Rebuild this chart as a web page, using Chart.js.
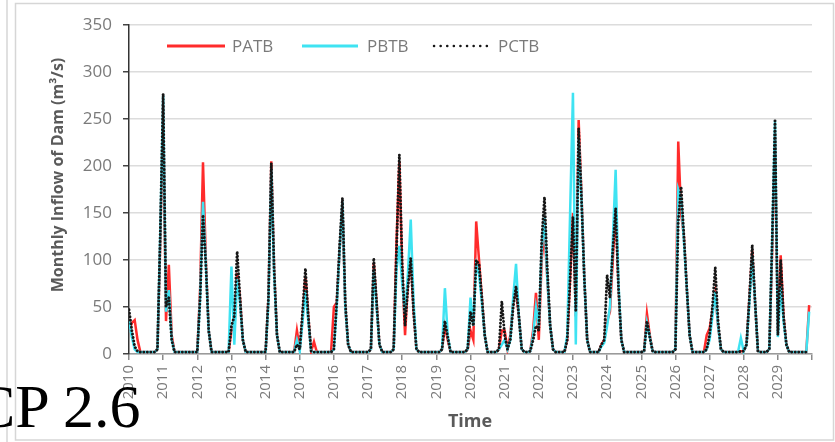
<!DOCTYPE html>
<html>
<head>
<meta charset="utf-8">
<script src="https://cdn.jsdelivr.net/npm/chart.js@4.4.1/dist/chart.umd.min.js"></script>
<style>
  html, body { margin: 0; padding: 0; background: #fff; }
  #wrap { position: relative; width: 835px; height: 442px; overflow: hidden; }
  canvas { position: absolute; left: 0; top: 0; }
  #rcp { position: absolute; left: -26px; top: 375px; font-family: "Liberation Serif", "Times New Roman", serif;
         font-size: 62px; line-height: 62px; color: #000; white-space: nowrap; z-index: 5; }
</style>
</head>
<body>
<div id="wrap">
  <canvas id="c" width="835" height="442"></canvas>
  <div id="rcp">CP 2.6</div>
</div>
<script>
// ---- data (monthly, Jan 2010 .. Dec 2029) ----
const yearLabels = ['2010','2011','2012','2013','2014','2015','2016','2017','2018','2019',
                    '2020','2021','2022','2023','2024','2025','2026','2027','2028','2029'];
const seriesNames = ['PATB', 'PBTB', 'PCTB'];

const PATB = [
  25,33,36,15,2,2,2,2,2,2,5,120,
  265,35,95,20,2,2,2,2,2,2,2,2,
  2,70,204,100,25,2,2,2,2,2,2,2,
  25,30,86,60,15,2,2,2,2,2,2,2,
  2,60,205,90,20,2,2,2,2,2,2,25,
  5,40,82,40,3,13,2,2,2,2,2,2,
  50,55,110,160,50,10,2,2,2,2,2,2,
  2,5,97,55,10,2,2,2,2,5,120,205,
  90,20,75,102,45,5,2,2,2,2,2,2,
  2,2,5,30,15,2,2,2,2,2,2,5,
  25,15,141,100,60,20,2,2,2,2,5,25,
  25,5,20,55,68,40,5,2,2,3,25,65,
  15,100,130,80,30,5,2,2,2,2,15,80,
  150,40,249,170,80,15,2,2,2,2,10,15,
  35,45,100,155,70,15,2,2,2,2,2,2,
  2,3,43,20,3,2,2,2,2,2,2,2,
  5,226,150,125,70,20,2,2,2,2,2,20,
  27,45,65,30,5,2,2,2,2,2,2,3,
  3,10,60,110,55,3,2,2,2,5,110,235,
  25,105,40,10,2,2,2,2,2,2,2,52
];
const PBTB = [
  35,18,5,2,2,2,2,2,2,2,5,130,
  275,45,68,15,2,2,2,2,2,2,2,2,
  2,60,162,95,25,2,2,2,2,2,2,2,
  93,10,80,55,15,2,2,2,2,2,2,2,
  2,55,197,85,20,2,2,2,2,2,2,15,
  3,35,68,35,3,2,2,2,2,2,2,2,
  5,50,110,162,50,10,2,2,2,2,2,2,
  2,5,90,50,10,2,2,2,2,5,90,115,
  75,43,85,143,55,5,2,2,2,2,2,2,
  2,2,5,70,20,2,2,2,2,2,2,5,
  60,30,95,85,55,20,2,2,2,2,5,10,
  15,5,15,60,96,40,5,2,2,3,20,50,
  30,110,145,80,30,5,2,2,2,2,20,150,
  278,10,230,165,80,15,2,2,2,2,8,12,
  30,50,120,196,75,15,2,2,2,2,2,2,
  2,3,33,18,3,2,2,2,2,2,2,2,
  5,175,165,120,70,20,2,2,2,2,2,5,
  15,40,66,30,5,2,2,2,2,2,2,17,
  3,10,55,105,55,3,2,2,2,5,120,248,
  18,72,35,10,2,2,2,2,2,2,2,45
];
const PCTB = [
  47,25,8,3,2,2,2,2,2,2,5,130,
  277,50,60,15,2,2,2,2,2,2,2,2,
  2,60,148,95,25,2,2,2,2,2,2,2,
  30,40,109,60,15,2,2,2,2,2,2,2,
  2,60,203,90,20,2,2,2,2,2,2,10,
  5,45,91,40,3,2,2,2,2,2,2,2,
  5,55,115,166,55,10,2,2,2,2,2,2,
  2,5,102,55,10,2,2,2,2,5,110,212,
  95,30,70,102,45,5,2,2,2,2,2,2,
  2,2,5,35,18,2,2,2,2,2,2,5,
  45,30,100,95,60,20,2,2,2,2,5,56,
  20,5,15,50,72,40,5,2,2,3,15,30,
  25,120,167,90,30,5,2,2,2,2,15,80,
  146,45,240,165,80,15,2,2,2,2,10,15,
  84,60,110,155,70,15,2,2,2,2,2,2,
  2,3,35,18,3,2,2,2,2,2,2,2,
  5,140,178,125,70,20,2,2,2,2,2,5,
  20,50,92,35,5,2,2,2,2,2,2,3,
  3,10,60,116,55,3,2,2,2,5,120,248,
  20,100,40,10,2,2,2,2,2,2,2,2
];
const yTicks = [0, 50, 100, 150, 200, 250, 300, 350];

// ---- styling ----
const RED = '#ff2b2b', CYAN = '#3fe3f2', BLACK = '#161616';
const toXY = arr => arr.map((v, i) => ({ x: i, y: v }));

const decor = {
  id: 'decor',
  beforeDraw(chart) {
    const ctx = chart.ctx;
    ctx.save();
    ctx.fillStyle = '#fff';
    ctx.fillRect(0, 0, chart.width, chart.height);
    ctx.strokeStyle = '#d6d6d6';
    ctx.lineWidth = 1.5;
    ctx.strokeRect(15.5, 3.5, 818, 436.5);
    ctx.beginPath();
    ctx.moveTo(7, 0); ctx.lineTo(7, chart.height);
    ctx.stroke();
    ctx.restore();
  },
  afterDraw(chart) {
    const ctx = chart.ctx;
    ctx.save();
    // legend
    const ly = 46;
    const items = [
      { name: seriesNames[0], color: RED, x0: 167, x1: 225, tx: 232, dash: [], w: 3, cap: 'butt' },
      { name: seriesNames[1], color: CYAN, x0: 302, x1: 358, tx: 367, dash: [], w: 3, cap: 'butt' },
      { name: seriesNames[2], color: BLACK, x0: 434, x1: 488, tx: 498, dash: [0.1, 6.5], w: 2.5, cap: 'round' }
    ];
    items.forEach(it => {
      ctx.beginPath();
      ctx.setLineDash(it.dash);
      ctx.lineCap = it.cap;
      ctx.strokeStyle = it.color;
      ctx.lineWidth = it.w;
      ctx.moveTo(it.x0, ly); ctx.lineTo(it.x1, ly);
      ctx.stroke();
      ctx.setLineDash([]);
      ctx.fillStyle = '#7a7a7a';
      ctx.font = '17px "Open Sans"';
      ctx.textBaseline = 'middle';
      ctx.textAlign = 'left';
      ctx.fillText(it.name, it.tx, ly + 1);
    });
    // axis titles
    ctx.fillStyle = '#5a5a5a';
    ctx.font = 'bold 16px "Open Sans"';
    ctx.textAlign = 'center';
    ctx.textBaseline = 'middle';
    ctx.save();
    ctx.translate(58, 175);
    ctx.rotate(-Math.PI / 2);
    ctx.fillText('Monthly Inflow of Dam (m³/s)', 0, 0);
    ctx.restore();
    ctx.font = 'bold 18px "Open Sans"';
    ctx.fillText('Time', 470, 422);
    ctx.restore();
  }
};

new Chart(document.getElementById('c'), {
  type: 'line',
  data: {
    datasets: [
      { label: seriesNames[0], data: toXY(PATB), borderColor: RED, borderWidth: 2.5, order: 3 },
      { label: seriesNames[1], data: toXY(PBTB), borderColor: CYAN, borderWidth: 2.5, order: 2 },
      { label: seriesNames[2], data: toXY(PCTB), borderColor: BLACK, borderWidth: 2.9,
        borderDash: [0.1, 3.4], borderCapStyle: 'round', order: 1 }
    ]
  },
  options: {
    responsive: false,
    devicePixelRatio: 1,
    animation: false,
    layout: { padding: { left: 15, right: 23, top: 25, bottom: 0 } },
    elements: { point: { radius: 0 }, line: { tension: 0, fill: false } },
    plugins: { legend: { display: false }, tooltip: { enabled: false } },
    scales: {
      x: {
        type: 'linear', min: 0, max: 240,
        afterFit(s) { s.height = 88; },
        afterBuildTicks(s) {
          s.ticks = yearLabels.map((_, i) => ({ value: i * 12 })).concat([{ value: 240 }]);
        },
        ticks: {
          autoSkip: false, maxRotation: 90, minRotation: 90, padding: 5,
          color: '#7a7a7a', font: { family: 'Open Sans', size: 15 },
          callback: (v) => yearLabels[v / 12] || ''
        },
        grid: { drawOnChartArea: false, drawTicks: true, tickLength: 6, tickColor: '#8a8a8a', lineWidth: 1.5 },
        border: { color: '#9a9a9a', width: 1.5 }
      },
      y: {
        min: 0, max: 350,
        afterFit(s) { s.width = 129 - 15; },
        afterBuildTicks(s) { s.ticks = yTicks.map(v => ({ value: v })); },
        ticks: { padding: 11, color: '#7a7a7a', font: { family: 'Open Sans', size: 17 } },
        grid: { color: '#dcdcdc', lineWidth: 1.5, drawTicks: true, tickLength: 6, tickColor: '#444' },
        border: { color: '#333', width: 1.5 }
      }
    }
  },
  plugins: [decor]
});
</script>
</body>
</html>
